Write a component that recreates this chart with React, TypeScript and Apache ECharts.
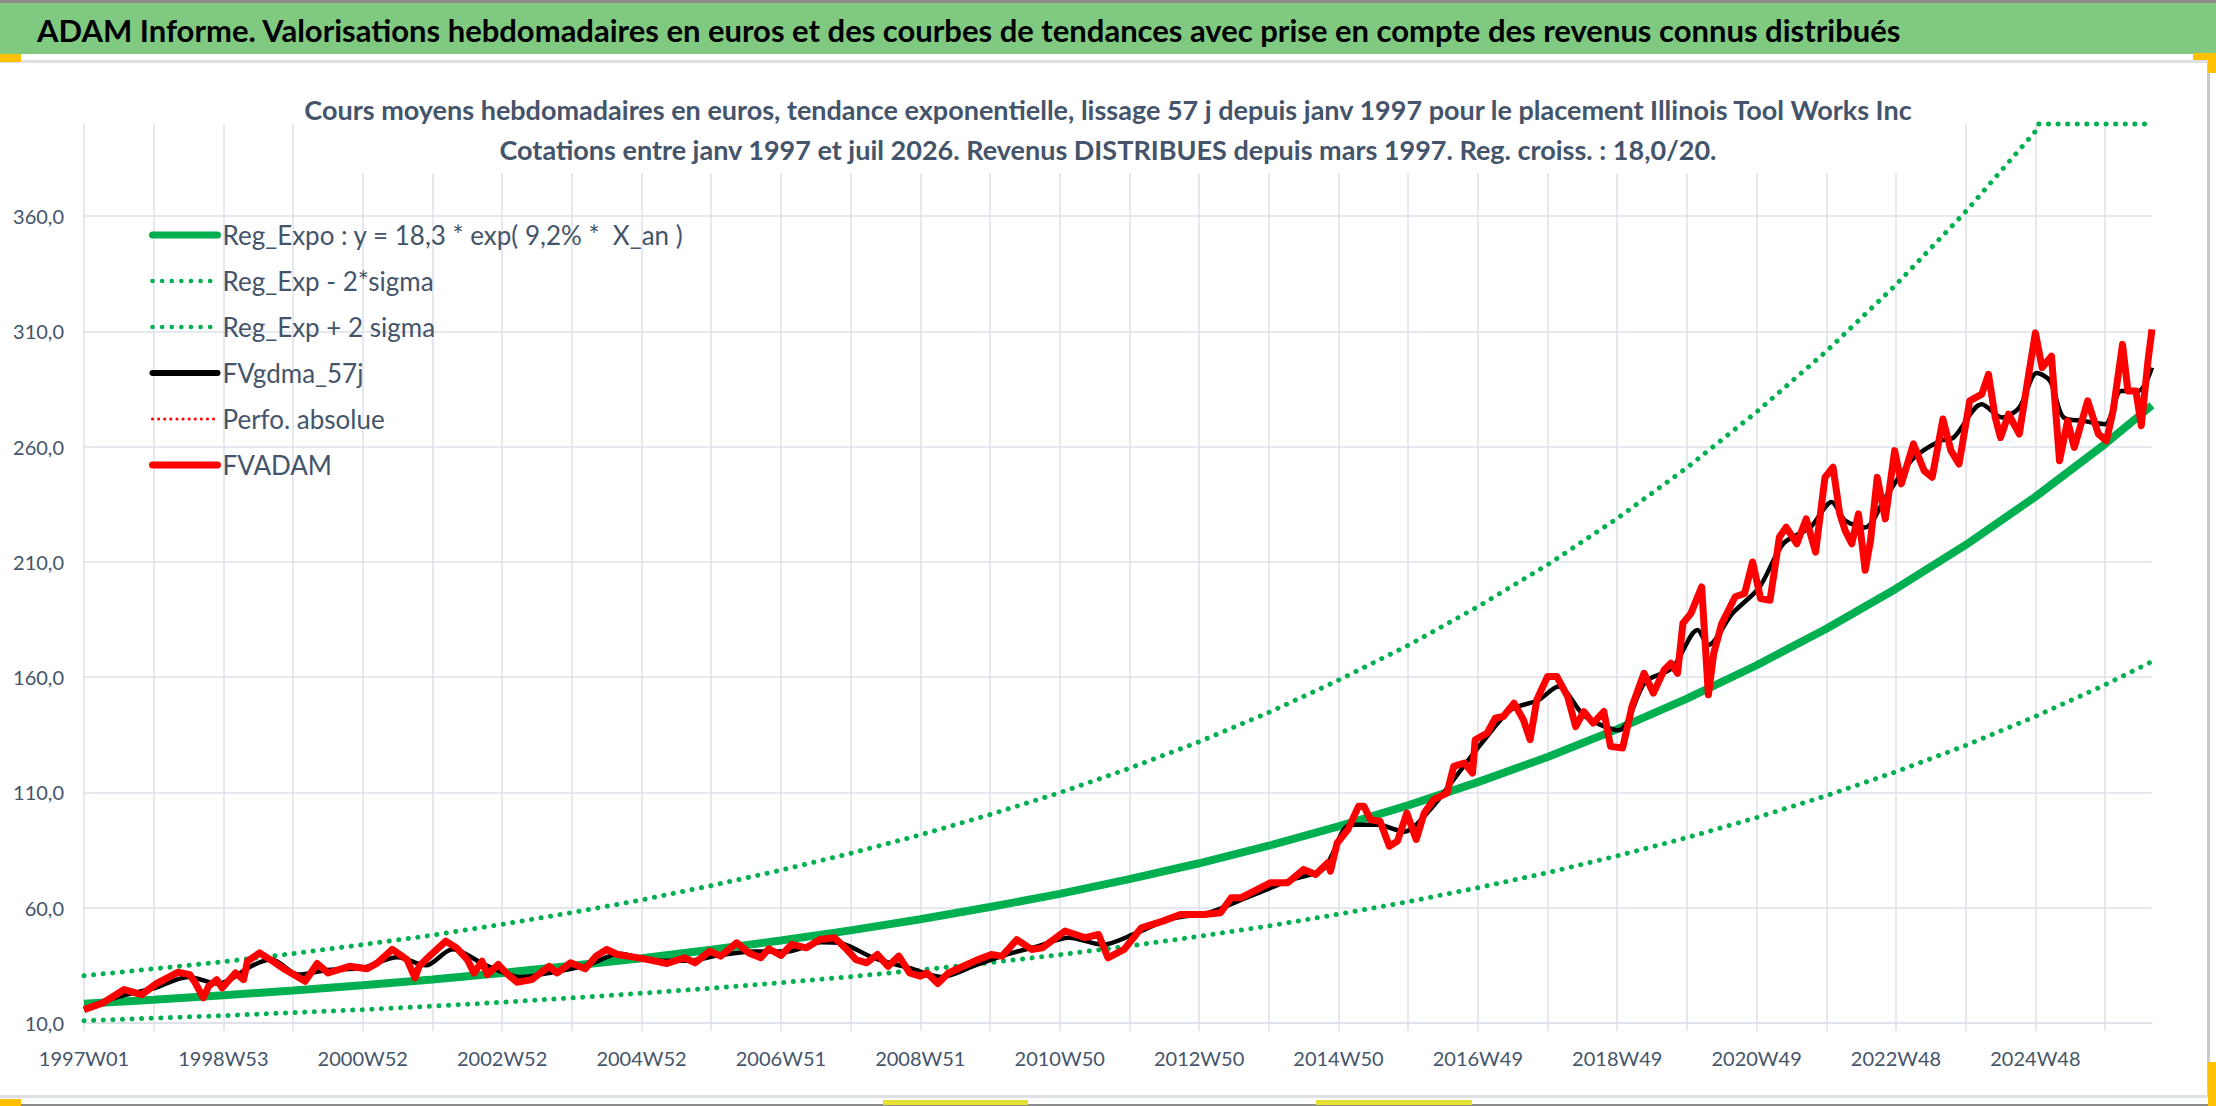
import { useEffect, useRef } from "react";
import * as echarts from "echarts";

const FONT = "Lato, 'Liberation Sans', sans-serif";
const TEXT = "#44546a";
const GRID = "#dde1e8";
const GREEN = "#00b050";

const headerTitle =
  "ADAM Informe. Valorisations hebdomadaires en euros et des courbes de tendances avec prise en compte des revenus connus distribués";
const subtitleLines = [
  "Cours moyens hebdomadaires en euros, tendance exponentielle, lissage 57 j depuis janv 1997 pour le placement Illinois Tool Works Inc",
  "Cotations entre janv 1997 et juil 2026. Revenus DISTRIBUES depuis mars 1997. Reg. croiss. : 18,0/20.",
];

const seriesNames = [
  "Reg_Expo : y = 18,3 * exp( 9,2% *  X_an )",
  "Reg_Exp - 2*sigma",
  "Reg_Exp + 2 sigma",
  "FVgdma_57j",
  "Perfo. absolue",
  "FVADAM",
];

// x labels, one every 104 weeks
const weekTickLabels = [
  "1997W01", "1998W53", "2000W52", "2002W52", "2004W52", "2006W51", "2008W51", "2010W50",
  "2012W50", "2014W50", "2016W49", "2018W49", "2020W49", "2022W48", "2024W48",
];

// week index (from 1997W01) of the trend readings
const trendWeeks = [
  0, 52, 104, 156, 208, 260, 312, 364, 416, 468, 520, 572, 624, 676, 728, 780, 832, 884, 936, 988,
  1040, 1092, 1144, 1196, 1248, 1300, 1352, 1404, 1456, 1508, 1543,
];
const regExpo = [
  18.3, 20.1, 22.0, 24.1, 26.4, 28.9, 31.7, 34.8, 38.1, 41.8, 45.8, 50.2, 55.0, 60.3, 66.0, 72.4,
  79.3, 86.9, 95.3, 104.4, 114.5, 125.4, 137.5, 150.7, 165.2, 181.0, 198.4, 217.4, 238.3, 261.2, 278.0,
];
const regExpMinus = [
  11.0, 12.1, 13.2, 14.5, 15.8, 17.3, 19.0, 20.9, 22.9, 25.1, 27.5, 30.1, 33.0, 36.2, 39.6, 43.4,
  47.6, 52.1, 57.2, 62.6, 68.7, 75.2, 82.5, 90.4, 99.1, 108.6, 119.0, 130.4, 143.0, 156.7, 166.8,
];
// upper band, flat where it meets the top of the axis
const regExpPlus: [number, number][] = [
  [0, 30.5], [52, 33.5], [104, 36.6], [156, 40.1], [208, 44.0], [260, 48.1], [312, 52.8], [364, 57.9],
  [416, 63.4], [468, 69.6], [520, 76.3], [572, 83.6], [624, 91.6], [676, 100.4], [728, 109.9],
  [780, 120.5], [832, 132.0], [884, 144.7], [936, 158.7], [988, 173.8], [1040, 190.6], [1092, 208.8],
  [1144, 228.9], [1196, 250.9], [1248, 275.1], [1300, 301.4], [1352, 330.3], [1404, 362.0],
  [1456, 396.8], [1458, 400], [1508, 400], [1543, 400],
];

// smoothed 57 day average [week, euros]
const fvgdma: [number, number][] = [
  [0, 16], [26, 21.5], [52, 25], [78, 30], [100, 27], [126, 35], [140, 37.5], [160, 31], [182, 33],
  [208, 34], [234, 38.5], [255, 35], [275, 42], [300, 35], [325, 30], [350, 32], [375, 35], [400, 40],
  [425, 37], [450, 37], [475, 39.5], [500, 41], [525, 41], [550, 45], [565, 44.5], [590, 38],
  [615, 34], [640, 30], [665, 35], [690, 40], [710, 43], [735, 47], [760, 44], [785, 49], [810, 55],
  [840, 58], [870, 65], [900, 72], [925, 77], [945, 96], [965, 96], [985, 93], [1005, 103],
  [1025, 118], [1045, 133], [1065, 146], [1085, 150], [1100, 156], [1120, 143], [1145, 137],
  [1165, 158], [1185, 164], [1204, 180.5], [1212, 174], [1230, 187.7], [1250, 199], [1268, 218],
  [1288, 225], [1304, 236], [1314, 228], [1329, 225], [1344, 238], [1365, 255], [1385, 262.6],
  [1395, 264], [1416, 278.4], [1431, 272.7], [1444, 277], [1457, 292], [1467, 288.5], [1477, 272.7],
  [1492, 271.2], [1508, 269.8], [1520, 284.2], [1533, 284.2], [1543, 294.3],
];

// weekly valuation [week, euros]
const fvadam: [number, number][] = [
  [0, 15.8], [14, 18.7], [30, 24.5], [43, 22.3], [54, 27.1], [70, 32], [79, 31], [83, 27.4], [89, 20.9],
  [93, 26], [99, 28.8], [103, 25.2], [113, 31.7], [119, 28.8], [122, 36.8], [131, 40.4], [139, 37.5],
  [150, 33.2], [165, 28.1], [174, 35.8], [182, 31.7], [198, 34.6], [211, 33.5], [219, 36.1], [230, 41.9],
  [241, 37.5], [247, 29.6], [250, 34.6], [259, 39.7], [270, 45.5], [278, 42.6], [286, 37.5], [291, 31.7],
  [297, 36.8], [301, 31], [309, 35.4], [315, 31.7], [323, 27.7], [334, 28.8], [347, 34.6], [353, 31.7],
  [363, 36.1], [374, 33.5], [382, 39], [390, 41.9], [398, 39.7], [408, 38.8], [421, 37.5], [435, 35.8],
  [448, 38.3], [456, 36.1], [467, 41.2], [475, 39], [487, 44.8], [496, 40.4], [505, 38.3], [511, 42.2],
  [520, 39.3], [528, 44.1], [539, 42.6], [549, 46.2], [560, 47], [568, 42.6], [576, 37.5], [584, 36.1],
  [592, 39.7], [600, 34.6], [608, 39], [616, 31.7], [624, 30.3], [629, 31.7], [637, 27.1], [645, 31.7],
  [656, 34.6], [667, 37.5], [677, 39.7], [685, 39], [696, 46.2], [707, 41.9], [715, 42.6], [732, 49.9],
  [747, 47], [757, 48.4], [764, 38.3], [776, 41.9], [789, 51.3], [805, 54.2], [818, 57.1], [836, 57.1],
  [848, 57.8], [856, 64.3], [863, 64.3], [873, 67.2], [885, 70.8], [898, 70.8], [910, 76.6], [919, 74.4],
  [928, 79.5], [930, 75.9], [935, 88.1], [943, 93.9], [951, 104], [955, 104], [960, 98.2], [967, 97.5],
  [974, 86.7], [980, 88.9], [987, 101.1], [994, 89.6], [1000, 101.1], [1007, 106.9], [1017, 109.8],
  [1022, 121.3], [1030, 122.8], [1036, 118.4], [1038, 132.9], [1047, 135.8], [1053, 142.2], [1059, 143],
  [1067, 148.7], [1074, 141.5], [1079, 132.9], [1084, 150.2], [1092, 160.3], [1099, 160.3], [1107, 151.6],
  [1113, 138.6], [1119, 145.1], [1126, 140.1], [1134, 145.1], [1139, 130], [1148, 129.3], [1155, 147.3],
  [1164, 161.7], [1171, 153.1], [1179, 163.2], [1184, 166.1], [1189, 161.7], [1193, 183.4], [1199, 187.7],
  [1207, 199.2], [1212, 152.4], [1216, 170.4], [1222, 183.3], [1232, 194.9], [1239, 196.3], [1245, 210],
  [1251, 194.1], [1258, 193.4], [1265, 220.8], [1270, 225.1], [1278, 217.9], [1285, 228.7], [1292, 214.3],
  [1299, 246.7], [1305, 251.1], [1310, 230.9], [1314, 223.7], [1319, 217.9], [1324, 230.9], [1329, 206.4],
  [1333, 219.4], [1338, 246.7], [1344, 228.7], [1351, 258.3], [1356, 243.9], [1365, 261.2], [1373, 249.6],
  [1379, 246.7], [1387, 272], [1393, 258.3], [1399, 252.5], [1407, 279.9], [1416, 282.8], [1421, 291.4],
  [1426, 272.7], [1430, 264], [1436, 274.1], [1444, 265.5], [1449, 284.2], [1456, 309.4], [1461, 294.3],
  [1468, 299.3], [1474, 253.9], [1480, 271.2], [1485, 259.7], [1495, 279.9], [1503, 265.5], [1509, 262.6],
  [1514, 275.6], [1521, 304.4], [1525, 284.2], [1531, 284.2], [1535, 269.1], [1540, 297.2], [1543, 310.9],
];

const App = () => {
  const chartRef = useRef<HTMLDivElement | null>(null);

  useEffect(() => {
    if (!chartRef.current) return;
    const chart = echarts.init(chartRef.current, null, { renderer: "svg" });

    const dotted = (color: string, width: number, gap: number) => ({
      color,
      width,
      type: [0.1, gap],
      cap: "round",
    });

    const option = {
      animation: false,
      backgroundColor: "#ffffff",
      title: {
        text: subtitleLines.join("\n"),
        left: "center",
        top: 84,
        z: 6,
        textStyle: {
          fontFamily: FONT,
          fontSize: 27,
          fontWeight: "bold",
          color: TEXT,
          lineHeight: 40,
        },
      },
      legend: {
        orient: "vertical",
        left: 144,
        top: 215,
        itemWidth: 65,
        itemHeight: 14,
        itemGap: 16,
        itemStyle: { opacity: 0 },
        data: [
          { name: seriesNames[0], lineStyle: { width: 7, cap: "round" } },
          { name: seriesNames[1], lineStyle: { width: 4.5 } },
          { name: seriesNames[2], lineStyle: { width: 4.5 } },
          { name: seriesNames[3], lineStyle: { width: 6, cap: "round" } },
          { name: seriesNames[4], lineStyle: { width: 3 } },
          { name: seriesNames[5], lineStyle: { width: 7, cap: "round" } },
        ],
        textStyle: { fontFamily: FONT, fontSize: 26, color: TEXT, lineHeight: 30 },
      },
      grid: { left: 84, right: 64, top: 124, bottom: 83 },
      xAxis: {
        type: "value",
        min: 0,
        max: 1543,
        interval: 52,
        axisLine: { show: true, lineStyle: { color: GRID, width: 1.5 } },
        axisTick: { show: true, length: 8, lineStyle: { color: GRID, width: 1.5 } },
        axisLabel: {
          fontFamily: FONT,
          fontSize: 20,
          color: TEXT,
          margin: 25,
          showMaxLabel: false,
          formatter: (v: number) => (v % 104 === 0 ? weekTickLabels[v / 104] ?? "" : ""),
        },
        splitLine: { show: true, showMaxLine: false, lineStyle: { color: GRID, width: 1.5 } },
      },
      yAxis: {
        type: "value",
        min: 10,
        max: 400,
        interval: 50,
        axisLine: { show: false },
        axisTick: { show: false },
        axisLabel: {
          fontFamily: FONT,
          fontSize: 20,
          color: TEXT,
          margin: 20,
          showMaxLabel: false,
          formatter: (v: number) => (v >= 400 ? "" : v.toFixed(1).replace(".", ",")),
        },
        splitLine: { show: true, showMaxLine: false, lineStyle: { color: GRID, width: 1.5 } },
      },
      series: [
        {
          name: seriesNames[0],
          type: "line",
          symbol: "none",
          data: trendWeeks.map((w, i) => [w, regExpo[i]]),
          lineStyle: { color: GREEN, width: 8 },
          itemStyle: { color: GREEN },
        },
        {
          name: seriesNames[1],
          type: "line",
          symbol: "none",
          data: trendWeeks.map((w, i) => [w, regExpMinus[i]]),
          lineStyle: dotted(GREEN, 5, 9.5),
          itemStyle: { color: GREEN },
        },
        {
          name: seriesNames[2],
          type: "line",
          symbol: "none",
          clip: false,
          data: regExpPlus,
          lineStyle: dotted(GREEN, 5, 9.5),
          itemStyle: { color: GREEN },
        },
        {
          name: seriesNames[3],
          type: "line",
          symbol: "none",
          smooth: 0.3,
          data: fvgdma,
          lineStyle: { color: "#000000", width: 4.5 },
          itemStyle: { color: "#000000" },
        },
        {
          name: seriesNames[4],
          type: "line",
          symbol: "none",
          data: [],
          lineStyle: dotted("#ff0000", 3, 6),
          itemStyle: { color: "#ff0000" },
        },
        {
          name: seriesNames[5],
          type: "line",
          symbol: "none",
          data: fvadam,
          lineStyle: { color: "#ff0000", width: 7, join: "round" },
          itemStyle: { color: "#ff0000" },
        },
      ],
      graphic: [
        // white box behind the chart title, hides the grid there
        { type: "rect", z: 1, shape: { x: 297, y: 80, width: 1615, height: 93 }, style: { fill: "#ffffff" } },
        { type: "rect", z: 10, shape: { x: 0, y: 0, width: 2216, height: 3 }, style: { fill: "#8a8a8a" } },
        { type: "rect", z: 10, shape: { x: 0, y: 3, width: 2216, height: 51 }, style: { fill: "#80c980" } },
        {
          type: "text",
          z: 11,
          x: 37,
          y: 30,
          style: {
            text: headerTitle,
            fill: "#000000",
            fontFamily: FONT,
            fontSize: 31,
            fontWeight: "bold",
            verticalAlign: "middle",
          },
        },
        { type: "rect", z: 10, shape: { x: 0, y: 60, width: 2208, height: 3 }, style: { fill: "#dde0e5" } },
        { type: "rect", z: 10, shape: { x: 2207, y: 62, width: 3, height: 1036 }, style: { fill: "#c9c9c9" } },
        { type: "rect", z: 10, shape: { x: 0, y: 1095, width: 2208, height: 3 }, style: { fill: "#dde0e5" } },
        { type: "rect", z: 10, shape: { x: 0, y: 1104, width: 2216, height: 2 }, style: { fill: "#8a8a8a" } },
        { type: "rect", z: 11, shape: { x: 0, y: 54, width: 21, height: 8 }, style: { fill: "#ffc000" } },
        { type: "rect", z: 11, shape: { x: 2193, y: 53, width: 23, height: 7 }, style: { fill: "#ffc000" } },
        { type: "rect", z: 11, shape: { x: 2208, y: 53, width: 8, height: 20 }, style: { fill: "#ffc000" } },
        { type: "rect", z: 11, shape: { x: 0, y: 1099, width: 21, height: 7 }, style: { fill: "#ffc000" } },
        { type: "rect", z: 11, shape: { x: 2208, y: 1062, width: 8, height: 44 }, style: { fill: "#ffc000" } },
        { type: "rect", z: 11, shape: { x: 883, y: 1100, width: 145, height: 5 }, style: { fill: "#e6e033" } },
        { type: "rect", z: 11, shape: { x: 1316, y: 1100, width: 156, height: 5 }, style: { fill: "#e6e033" } },
      ],
    };

    chart.setOption(option as any);
    return () => {
      chart.dispose();
    };
  }, []);

  return (
    <div
      ref={chartRef}
      style={{ position: "absolute", left: 0, top: 0, width: 2216, height: 1106 }}
    />
  );
};

export default App;
